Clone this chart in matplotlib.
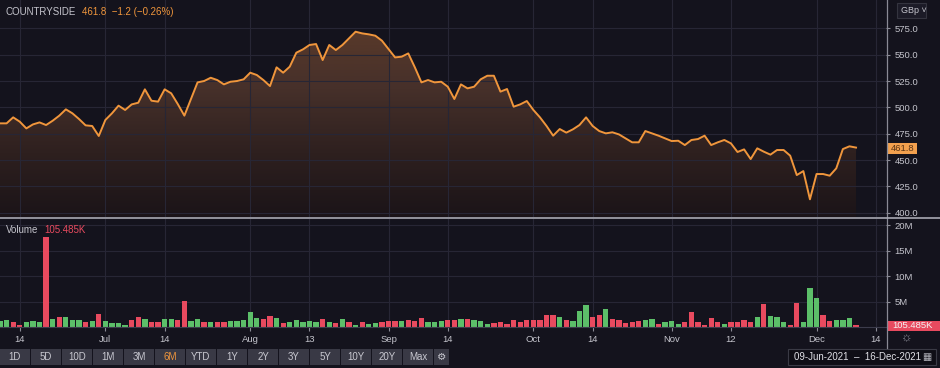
import numpy as np
import pandas as pd
import matplotlib
matplotlib.use('Agg')
import matplotlib.pyplot as plt
from matplotlib.colors import LinearSegmentedColormap
from matplotlib.patches import Rectangle
from matplotlib.lines import Line2D

plt.rcParams['font.family'] = ['Liberation Sans', 'DejaVu Sans']

# daily close (GBp), 09-Jun-2021 onwards
price = [484.8, 484.8, 490.5, 486.4, 480.0, 483.8, 485.7, 483.2, 487.3, 492.1,
         498.1, 494.3, 488.9, 482.9, 482.3, 472.8, 488.0, 494.3, 501.6, 497.5,
         502.8, 504.4, 517.1, 506.3, 505.4, 517.1, 513.3, 503.1, 492.1, 507.9,
         523.7, 525.0, 528.1, 525.9, 521.8, 524.3, 525.0, 526.6, 532.9, 530.7,
         525.9, 520.2, 538.0, 532.9, 538.6, 551.9, 555.0, 559.2, 560.1, 544.9,
         559.2, 554.4, 559.2, 565.5, 571.8, 570.2, 569.3, 568.0, 563.3, 555.4,
         547.4, 548.1, 551.2, 538.0, 523.7, 525.9, 523.7, 524.3, 519.6, 507.9,
         521.8, 518.0, 519.6, 526.6, 530.0, 530.0, 514.9, 517.4, 500.6, 502.8,
         506.0, 497.5, 490.5, 482.3, 473.1, 479.4, 476.0, 479.1, 483.2, 490.5,
         482.3, 477.5, 475.3, 476.3, 474.3, 470.6, 466.8, 466.8, 477.5, 475.3,
         473.1, 470.6, 468.0, 468.3, 464.2, 469.0, 469.9, 473.1, 464.2, 466.8,
         469.0, 465.8, 457.6, 460.1, 450.9, 461.1, 457.9, 455.1, 459.5, 459.5,
         454.1, 435.7, 439.5, 412.7, 436.7, 436.7, 435.1, 442.1, 460.4, 463.0,
         461.8]

# daily volume (millions)
volume = [1.24, 1.31, 0.92, 0.39, 0.92, 1.18, 1.05, 17.6, 1.57, 1.90,
          1.90, 1.44, 1.44, 0.98, 1.18, 2.62, 1.24, 0.72, 0.72, 0.46,
          1.44, 1.96, 1.57, 0.98, 0.92, 1.57, 1.57, 1.31, 5.10, 1.18,
          1.57, 1.05, 0.92, 1.05, 0.92, 1.24, 1.11, 1.44, 2.94, 1.77,
          1.57, 2.09, 1.70, 0.72, 0.92, 1.31, 0.92, 1.24, 0.92, 1.57,
          0.98, 0.78, 1.57, 0.98, 0.39, 0.98, 0.59, 0.78, 0.98, 1.18,
          1.18, 1.11, 1.44, 1.18, 1.77, 0.98, 0.92, 1.18, 1.44, 1.44,
          1.57, 1.57, 1.31, 1.18, 0.52, 0.78, 0.98, 0.65, 1.44, 0.98,
          1.44, 1.31, 1.44, 2.29, 2.29, 1.90, 1.31, 1.18, 3.07, 4.25,
          1.90, 2.42, 3.53, 1.57, 1.31, 0.78, 0.98, 1.11, 1.44, 1.57,
          0.65, 0.92, 1.11, 0.65, 0.98, 2.88, 0.98, 0.46, 1.70, 0.92,
          0.65, 0.98, 0.98, 1.31, 0.98, 1.90, 4.45, 2.09, 2.03, 0.92,
          0.46, 4.64, 0.92, 7.65, 5.76, 2.29, 1.11, 1.31, 1.44, 1.77,
          0.30]

# U = up bar (green), D = down bar (red)
vol_dir = ("UUDDUUUDUDUUUDUDUUUUDDUDDUUDDUUDUDDUUUUUDDUDUUUUUD"
           "UDUDUDUUDDDUDDDUUUDDUDUUUDDDDDDDDDDUDUUUDDUDDDDDUUD"
           "UUUDDDDDDUDDDDUDUUUDDUUUDDUUUD")

tick_dates = ['2021-06-14', '2021-07-01', '2021-07-14', '2021-08-02', '2021-08-13',
              '2021-09-01', '2021-09-14', '2021-10-01', '2021-10-14', '2021-11-01',
              '2021-11-12', '2021-12-01', '2021-12-14']
tick_labels = ['14', 'Jul', '14', 'Aug', '13', 'Sep', '14', 'Oct', '14', 'Nov',
               '12', 'Dec', '14']

price_ticks = [400, 425, 450, 475, 500, 525, 550, 575]
vol_ticks = [5, 10, 15, 20]
vol_tick_labels = ['5M', '10M', '15M', '20M']

# trading calendar (UK, Aug 30 bank holiday)
days = pd.bdate_range('2021-06-09', '2021-12-16')
days = days[days != pd.Timestamp('2021-08-30')]
day_pos = {d: i for i, d in enumerate(days)}
xt = [day_pos[pd.Timestamp(d)] for d in tick_dates]
idx = np.arange(len(price))

BG = '#14131d'
GRID = '#272635'
TXT = '#c4c4cc'
ORANGE = '#f0963c'
GREEN = '#5cbf69'
RED = '#e84a5f'

W, H = 940, 368
def fx(px):
    return px / W
def fy(py):
    return 1 - py / H

fig = plt.figure(figsize=(9.4, 3.68), dpi=100, facecolor=BG)

ax = fig.add_axes([0, fy(217), fx(886), (217) / H])
axv = fig.add_axes([0, fy(327), fx(886), (327 - 219) / H])

for a in (ax, axv):
    a.set_facecolor(BG)
    for s in a.spines.values():
        s.set_visible(False)
    a.set_xlim(0, 134.55)
    a.set_xticks(xt)
    a.grid(True, color=GRID, lw=0.8)
    a.set_axisbelow('line')
    a.yaxis.tick_right()
    a.tick_params(axis='y', length=3, width=0.8, pad=3, colors='#8a8a95',
                  labelcolor=TXT, labelsize=6.8)

# price panel
ax.set_ylim(395.9, 601.9)
ax.set_yticks(price_ticks)
ax.set_yticklabels([f'{v:.1f}' for v in price_ticks])
ax.tick_params(axis='x', length=0, labelbottom=False)

cmap = LinearSegmentedColormap.from_list('fill', ['#1b1418', '#2e201f', '#46302a', '#5a3a2a'])
grad = np.linspace(0, 1, 256).reshape(-1, 1)
im = ax.imshow(grad, extent=[0, len(price) - 1, 396, 578], origin='lower',
               aspect='auto', cmap=cmap, zorder=0.4)
poly = ax.fill_between(idx, price, 396, color='none', lw=0)
im.set_clip_path(poly.get_paths()[0], transform=ax.transData)
ax.plot(idx, price, color=ORANGE, lw=1.4, zorder=3, solid_joinstyle='round')
ax.set_xlim(0, 134.55)
ax.set_ylim(395.9, 601.9)

# volume panel
axv.set_ylim(0, 108 / 5.1)
bar_colors = [GREEN if c == 'U' else RED for c in vol_dir]
axv.bar(idx, volume, width=0.8, color=bar_colors, zorder=2)
axv.set_yticks(vol_ticks)
axv.set_yticklabels(vol_tick_labels)
axv.set_xticklabels(tick_labels)
axv.tick_params(axis='x', length=3, width=0.8, pad=2.5, colors='#8a8a95',
                labelcolor=TXT, labelsize=6.8)
axv.spines['bottom'].set_visible(True)
axv.spines['bottom'].set_color('#3c3c4c')

# frame lines
fig.add_artist(Line2D([fx(886.5), fx(886.5)], [fy(0), fy(348)], color='#8a8a95', lw=0.9))
fig.add_artist(Line2D([0, 1], [fy(217.8), fy(217.8)], color='#a8a8b2', lw=1.2))

# header
fig.text(fx(6), fy(12), 'COUNTRYSIDE', color=TXT, fontsize=7, va='center')
fig.text(fx(82), fy(12), '461.8  \u22121.2 (\u22120.26%)', color=ORANGE, fontsize=7, va='center')
fig.text(fx(6), fy(230), 'Volume', color=TXT, fontsize=7, va='center')
fig.text(fx(44), fy(230), '105.485K', color=RED, fontsize=7, va='center')

# currency button
fig.add_artist(Rectangle((fx(897), fy(18)), fx(29), 15 / H, facecolor='#1c1b27',
                         edgecolor='#34343f', lw=0.8))
fig.text(fx(901), fy(10.5), 'GBp \u02c5', color=TXT, fontsize=6.5, va='center')

# last price / volume boxes
fig.add_artist(Rectangle((fx(887), fy(154)), fx(30), 11 / H, facecolor='#f2a04e', lw=0))
fig.text(fx(891), fy(148.5), '461.8', color='#5a3414', fontsize=6.8, va='center')
fig.add_artist(Rectangle((fx(887), fy(331)), fx(53), 10 / H, facecolor=RED, lw=0))
fig.text(fx(892), fy(326), '105.485K', color='#f4f4f4', fontsize=6.8, va='center')

fig.text(fx(907), fy(338), '\u263c', color='#8a8a95', fontsize=9, ha='center', va='center')

# range buttons
btns = ['1D', '5D', '10D', '1M', '3M', '6M', 'YTD', '1Y', '2Y', '3Y', '5Y', '10Y', '20Y', 'Max']
bx = 0
for b in btns:
    fig.add_artist(Rectangle((fx(bx), fy(365)), fx(30), 16 / H, facecolor='#393945', lw=0))
    fig.text(fx(bx + 15), fy(357), b, color=ORANGE if b == '6M' else '#c8c8d0',
             fontsize=7, ha='center', va='center')
    bx += 31
fig.add_artist(Rectangle((fx(bx), fy(365)), fx(15), 16 / H, facecolor='#393945', lw=0))
fig.text(fx(bx + 7.5), fy(357), '\u2699', color='#c8c8d0', fontsize=7.5,
         ha='center', va='center', family='DejaVu Sans')

# date range box
fig.add_artist(Rectangle((fx(788), fy(365)), fx(148), 16 / H, facecolor='#0f0e16',
                         edgecolor='#3a3a45', lw=0.8))
fig.text(fx(794), fy(357), '09-Jun-2021  \u2013  16-Dec-2021', color='#e0e0e6',
         fontsize=7, va='center')
fig.text(fx(927), fy(357), '\u25a6', color='#b0b0b8', fontsize=7, ha='center',
         va='center', family='DejaVu Sans')

fig.savefig('out.png', dpi=100, facecolor=BG)
